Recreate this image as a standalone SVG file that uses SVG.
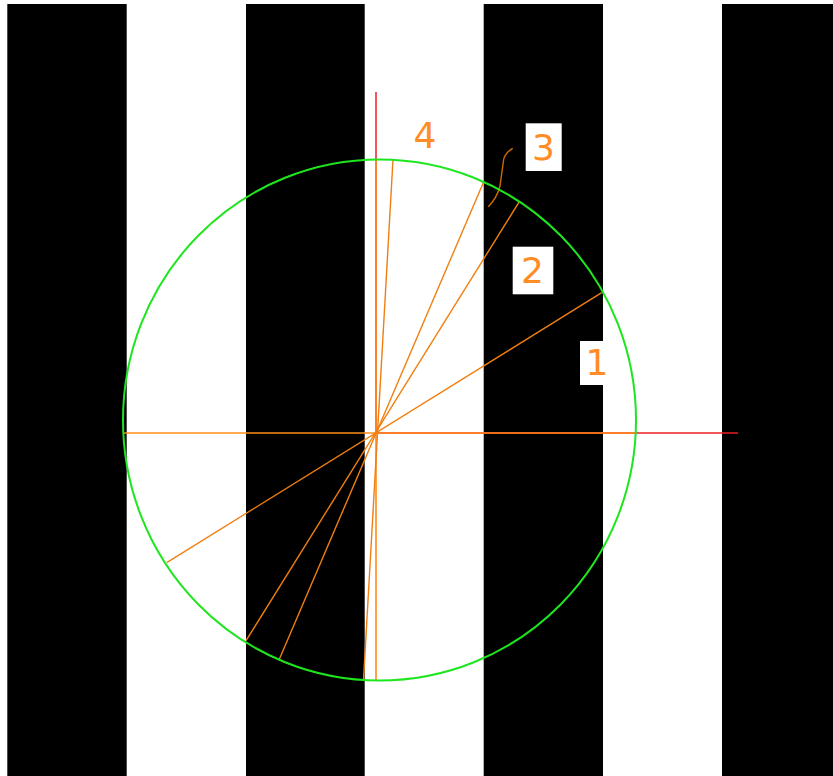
<svg xmlns="http://www.w3.org/2000/svg" width="833" height="776" viewBox="0 0 833 776">
<style>
.stripe{fill:#000000}
.red{stroke:#ee1c24;stroke-width:1.5;fill:none}
.axis{stroke:#ff8c1a;stroke-width:1.6;fill:none}
.ray{stroke:#f07f10;stroke-width:1.4;fill:none}
.brace{stroke:#d06a00;stroke-width:1.4;fill:none}
.circle{stroke:#1ee61e;stroke-width:2;fill:none}
.box{fill:#ffffff}
.lbl{font-family:"DejaVu Sans",sans-serif;font-size:36px;fill:#ff8c24;text-anchor:middle}
</style>
<rect x="0" y="0" width="833" height="776" fill="#ffffff"/>
<g id="stripes">
<rect class="stripe" x="7.3" y="4" width="119.4" height="772"/>
<rect class="stripe" x="246" y="4" width="118.7" height="772"/>
<rect class="stripe" x="483.7" y="4" width="119.3" height="772"/>
<rect class="stripe" x="722" y="4" width="111" height="772"/>
</g>
<g id="connectors">
<line class="red" x1="376" y1="92" x2="376" y2="433"/>
<line class="red" x1="376" y1="433" x2="738" y2="433"/>
<line class="axis" x1="124" y1="433" x2="635" y2="433"/>
<line class="axis" x1="376" y1="159" x2="376" y2="680"/>
<line class="ray" x1="601.7" y1="292.7" x2="166.7" y2="562.7"/>
<line class="ray" x1="519.3" y1="201.7" x2="246" y2="640.7"/>
<line class="ray" x1="483.3" y1="182.7" x2="279.3" y2="659.3"/>
<line class="ray" x1="393" y1="159.5" x2="363.5" y2="680"/>
<path class="brace" d="M512.7,148.3 Q503.5,154 503.3,162 L500,186 Q497,198 488.3,206.7"/>
</g>
<g id="circle">
<ellipse class="circle" cx="379.5" cy="420" rx="256.5" ry="260.5"/>
</g>
<g id="label-4">
<text class="lbl" x="425" y="148.3">4</text>
</g>
<g id="label-3">
<rect class="box" x="525.7" y="123.3" width="36" height="47.7"/>
<text class="lbl" x="543.5" y="160">3</text>
</g>
<g id="label-2">
<rect class="box" x="512.7" y="246.7" width="40.6" height="47.6"/>
<text class="lbl" x="532.5" y="282.7">2</text>
</g>
<g id="label-1">
<rect class="box" x="580" y="341" width="24" height="44"/>
<text class="lbl" x="597" y="375">1</text>
</g>
</svg>
